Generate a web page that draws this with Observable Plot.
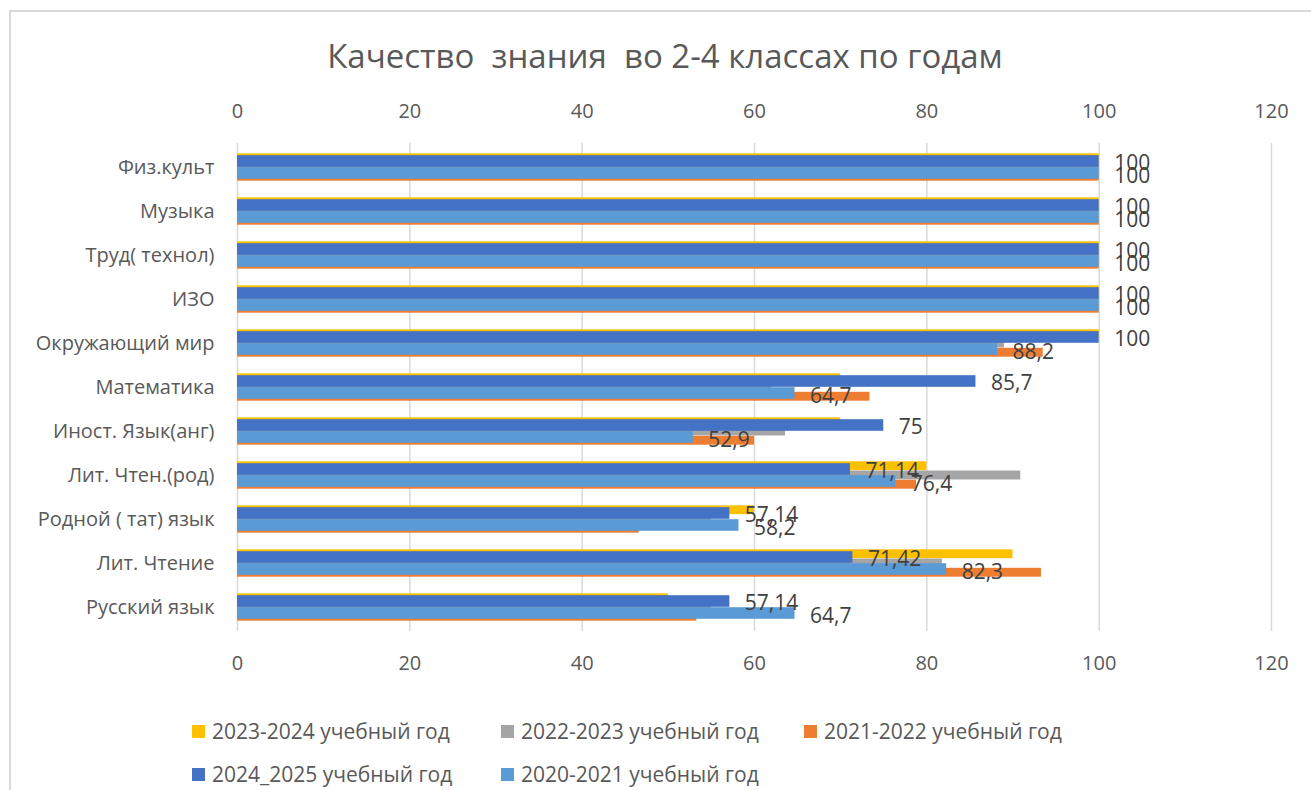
<!DOCTYPE html>
<html><head><meta charset="utf-8">
<script src="https://cdn.jsdelivr.net/npm/d3@7"></script>
<script src="https://cdn.jsdelivr.net/npm/@observablehq/plot@0.6"></script>
<style>
html,body{margin:0;padding:0;background:#fff;overflow:hidden;width:1311px;height:790px;font-family:"Open Sans",sans-serif;}
#frame{position:absolute;left:9px;top:10px;width:1400px;height:900px;border-left:2px solid #d9d9d9;border-top:2px solid #d9d9d9;box-sizing:border-box;}
#title{position:absolute;left:0;width:1330px;top:37px;text-align:center;font-size:33px;line-height:38px;color:#595959;white-space:pre;}
#chart{position:absolute;left:0;top:0;}
.leg{position:absolute;font-size:21px;line-height:26px;color:#595959;display:flex;align-items:center;white-space:nowrap;}
.sw{width:13px;height:13px;margin-right:7px;}
</style>
</head><body>
<div id="frame"></div>
<div id="chart"></div>
<div id="title">Качество  знания  во 2-4 классах по годам</div>
<div id="legend"></div>
<script>
const categories = ["Физ.культ","Музыка","Труд( технол)","ИЗО","Окружающий мир","Математика","Иност. Язык(анг)","Лит. Чтен.(род)","Родной ( тат) язык","Лит. Чтение","Русский язык"];
const seriesNames = ["2023-2024 учебный год","2022-2023 учебный год","2021-2022 учебный год","2024_2025 учебный год","2020-2021 учебный год"];
const values2023_2024 = [100,100,100,100,100,70,70,80,60,90,50];
const values2022_2023 = [100,100,100,100,89,62,63.6,90.9,55,81.8,55];
const values2021_2022 = [100,100,100,100,93.5,73.4,60,78.8,46.6,93.3,53.3];
const values2024_2025 = [100,100,100,100,100,85.7,75,71.14,57.14,71.42,57.14];
const values2020_2021 = [100,100,100,100,88.2,64.7,52.9,76.4,58.2,82.3,64.7];
const xTicks = [0,20,40,60,80,100,120];

const allValues = [values2023_2024, values2022_2023, values2021_2022, values2024_2025, values2020_2021];
const colors = ["#FFC000","#A5A5A5","#ED7D31","#4472C4","#5B9BD5"];
// band = 44.36px; primary group (3 bars) and secondary group (2 bars) overlap
const insets = [[8.3,26.8],[17.55,17.55],[26.8,8.3],[10.2,22.2],[22.2,10.2]];

const rows = allValues.map(vals => categories.map((c,i)=>({category:c, value:vals[i]})));
const fmt = v => String(v).replace(".", ",");

const barMarks = rows.map((data,k)=>Plot.barX(data,{
  x:"value", y:"category", fill:colors[k], insetTop:insets[k][0], insetBottom:insets[k][1]
}));

const chart = Plot.plot({
  width:1311, height:700,
  marginTop:143, marginBottom:69, marginLeft:237, marginRight:40,
  x:{domain:[0,120]},
  y:{domain:categories, padding:0},
  style:{fontFamily:"'Open Sans', sans-serif", fontSize:"20px", color:"#595959", background:"transparent"},
  marks:[
    Plot.gridX(xTicks,{stroke:"#d9d9d9", strokeOpacity:1, strokeWidth:1.5}),
    Plot.axisX({anchor:"top", ticks:xTicks, tickSize:0, tickPadding:26, label:null, fontSize:20, fill:"#595959"}),
    Plot.axisX({anchor:"bottom", ticks:xTicks, tickSize:0, tickPadding:24, label:null, fontSize:20, fill:"#595959"}),
    Plot.axisY({tickSize:0, tickPadding:23, label:null, fontSize:20, fill:"#595959"}),
    ...barMarks,
    Plot.text(rows[3],{x:"value", y:"category", text:d=>fmt(d.value), dx:15, dy:-4, textAnchor:"start", fill:"#404040", fontSize:21}),
    Plot.text(rows[4],{x:"value", y:"category", text:d=>fmt(d.value), dx:15, dy:9, textAnchor:"start", fill:"#404040", fontSize:21})
  ]
});
document.getElementById("chart").appendChild(chart);

const legendPos = [[192,718],[501,718],[804,718],[192,761],[501,761]];
const legend = document.getElementById("legend");
seriesNames.forEach((name,k)=>{
  const d = document.createElement("div");
  d.className = "leg";
  d.style.left = legendPos[k][0]+"px";
  d.style.top = legendPos[k][1]+"px";
  const sw = document.createElement("div");
  sw.className = "sw"; sw.style.background = colors[k];
  const t = document.createElement("span"); t.textContent = name;
  d.appendChild(sw); d.appendChild(t);
  legend.appendChild(d);
});
</script>
</body></html>
